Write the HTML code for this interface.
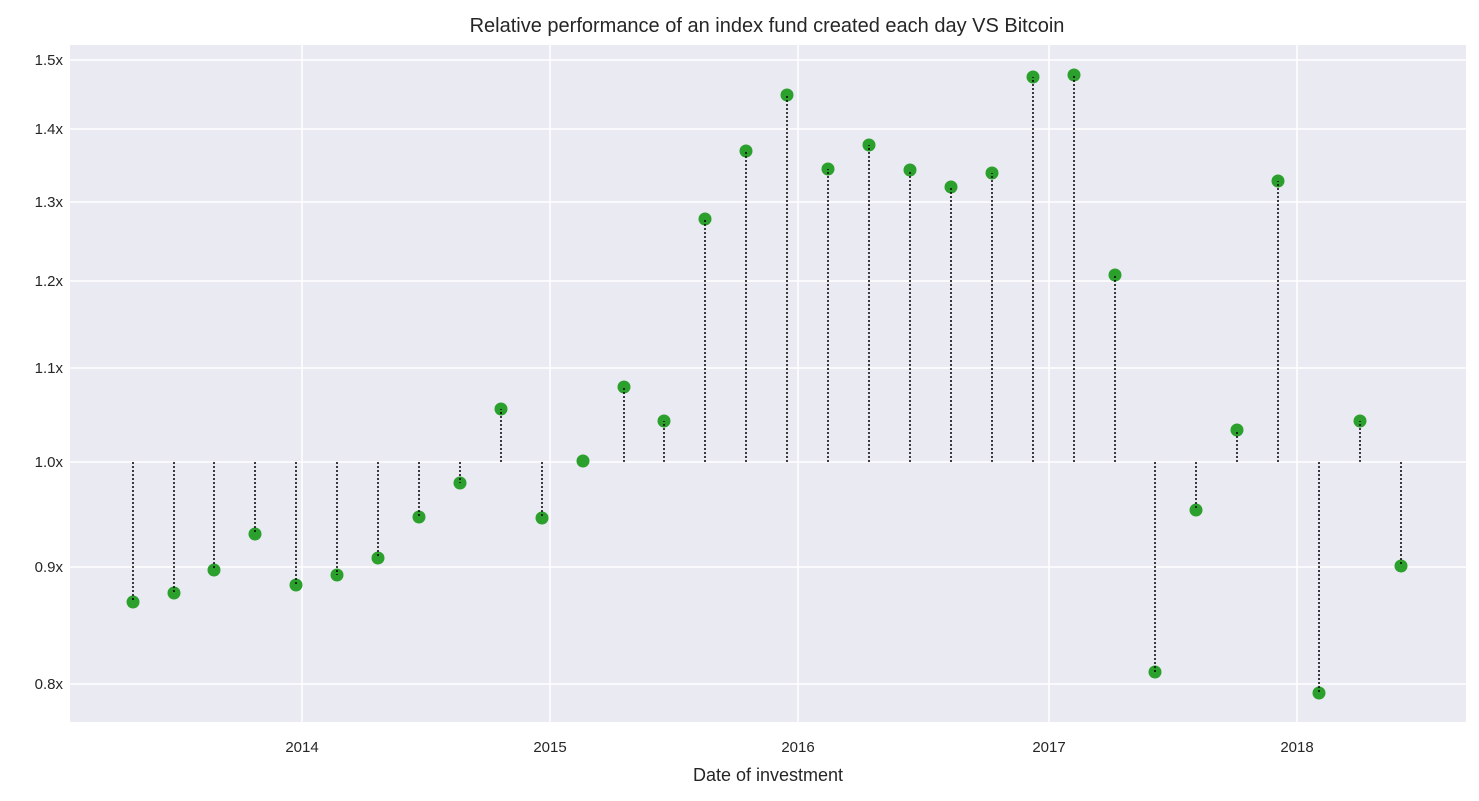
<!DOCTYPE html>
<html><head><style>body{margin:0;background:#fff}svg{display:block}text{font-family:"Liberation Sans",sans-serif;fill:#262626}</style></head><body>
<svg width="1479" height="801" xmlns="http://www.w3.org/2000/svg">
<rect x="70" y="45" width="1396" height="677" fill="#eaeaf2"/>
<g stroke="#fff" stroke-width="1.5">
<line x1="70" x2="1466" y1="60" y2="60"/><line x1="70" x2="1466" y1="129" y2="129"/><line x1="70" x2="1466" y1="202" y2="202"/><line x1="70" x2="1466" y1="281" y2="281"/><line x1="70" x2="1466" y1="368" y2="368"/><line x1="70" x2="1466" y1="462" y2="462"/><line x1="70" x2="1466" y1="567" y2="567"/><line x1="70" x2="1466" y1="684" y2="684"/>
<line y1="45" y2="722" x1="302" x2="302"/><line y1="45" y2="722" x1="550" x2="550"/><line y1="45" y2="722" x1="798" x2="798"/><line y1="45" y2="722" x1="1049" x2="1049"/><line y1="45" y2="722" x1="1297" x2="1297"/>
</g>
<g font-size="15" text-anchor="end">
<text x="63" y="65">1.5x</text><text x="63" y="134">1.4x</text><text x="63" y="207">1.3x</text><text x="63" y="286">1.2x</text><text x="63" y="373">1.1x</text><text x="63" y="467">1.0x</text><text x="63" y="572">0.9x</text><text x="63" y="689">0.8x</text>
</g>
<g font-size="15" text-anchor="middle">
<text x="302" y="752">2014</text><text x="550" y="752">2015</text><text x="798" y="752">2016</text><text x="1049" y="752">2017</text><text x="1297" y="752">2018</text>
<text x="768" y="781" font-size="18">Date of investment</text>
<text x="767" y="32" font-size="20">Relative performance of an index fund created each day VS Bitcoin</text>
</g>
<g fill="#2ca02c">
<circle cx="133" cy="602" r="6.5"/><circle cx="174" cy="593" r="6.5"/><circle cx="214" cy="570" r="6.5"/><circle cx="255" cy="534" r="6.5"/><circle cx="296" cy="585" r="6.5"/><circle cx="337" cy="575" r="6.5"/><circle cx="378" cy="558" r="6.5"/><circle cx="419" cy="517" r="6.5"/><circle cx="460" cy="483" r="6.5"/><circle cx="501" cy="409" r="6.5"/><circle cx="542" cy="518" r="6.5"/><circle cx="583" cy="461" r="6.5"/><circle cx="624" cy="387" r="6.5"/><circle cx="664" cy="421" r="6.5"/><circle cx="705" cy="219" r="6.5"/><circle cx="746" cy="151" r="6.5"/><circle cx="787" cy="95" r="6.5"/><circle cx="828" cy="169" r="6.5"/><circle cx="869" cy="145" r="6.5"/><circle cx="910" cy="170" r="6.5"/><circle cx="951" cy="187" r="6.5"/><circle cx="992" cy="173" r="6.5"/><circle cx="1033" cy="77" r="6.5"/><circle cx="1074" cy="75" r="6.5"/><circle cx="1115" cy="275" r="6.5"/><circle cx="1155" cy="672" r="6.5"/><circle cx="1196" cy="510" r="6.5"/><circle cx="1237" cy="430" r="6.5"/><circle cx="1278" cy="181" r="6.5"/><circle cx="1319" cy="693" r="6.5"/><circle cx="1360" cy="421" r="6.5"/><circle cx="1401" cy="566" r="6.5"/>
</g>
<g stroke="#000" stroke-width="1.5" stroke-dasharray="2,2">
<line x1="133" x2="133" y1="462" y2="602"/><line x1="174" x2="174" y1="462" y2="593"/><line x1="214" x2="214" y1="462" y2="570"/><line x1="255" x2="255" y1="462" y2="534"/><line x1="296" x2="296" y1="462" y2="585"/><line x1="337" x2="337" y1="462" y2="575"/><line x1="378" x2="378" y1="462" y2="558"/><line x1="419" x2="419" y1="462" y2="517"/><line x1="460" x2="460" y1="462" y2="483"/><line x1="501" x2="501" y1="462" y2="409"/><line x1="542" x2="542" y1="462" y2="518"/><line x1="624" x2="624" y1="462" y2="387"/><line x1="664" x2="664" y1="462" y2="421"/><line x1="705" x2="705" y1="462" y2="219"/><line x1="746" x2="746" y1="462" y2="151"/><line x1="787" x2="787" y1="462" y2="95"/><line x1="828" x2="828" y1="462" y2="169"/><line x1="869" x2="869" y1="462" y2="145"/><line x1="910" x2="910" y1="462" y2="170"/><line x1="951" x2="951" y1="462" y2="187"/><line x1="992" x2="992" y1="462" y2="173"/><line x1="1033" x2="1033" y1="462" y2="77"/><line x1="1074" x2="1074" y1="462" y2="75"/><line x1="1115" x2="1115" y1="462" y2="275"/><line x1="1155" x2="1155" y1="462" y2="672"/><line x1="1196" x2="1196" y1="462" y2="510"/><line x1="1237" x2="1237" y1="462" y2="430"/><line x1="1278" x2="1278" y1="462" y2="181"/><line x1="1319" x2="1319" y1="462" y2="693"/><line x1="1360" x2="1360" y1="462" y2="421"/><line x1="1401" x2="1401" y1="462" y2="566"/>
</g>
</svg></body></html>
